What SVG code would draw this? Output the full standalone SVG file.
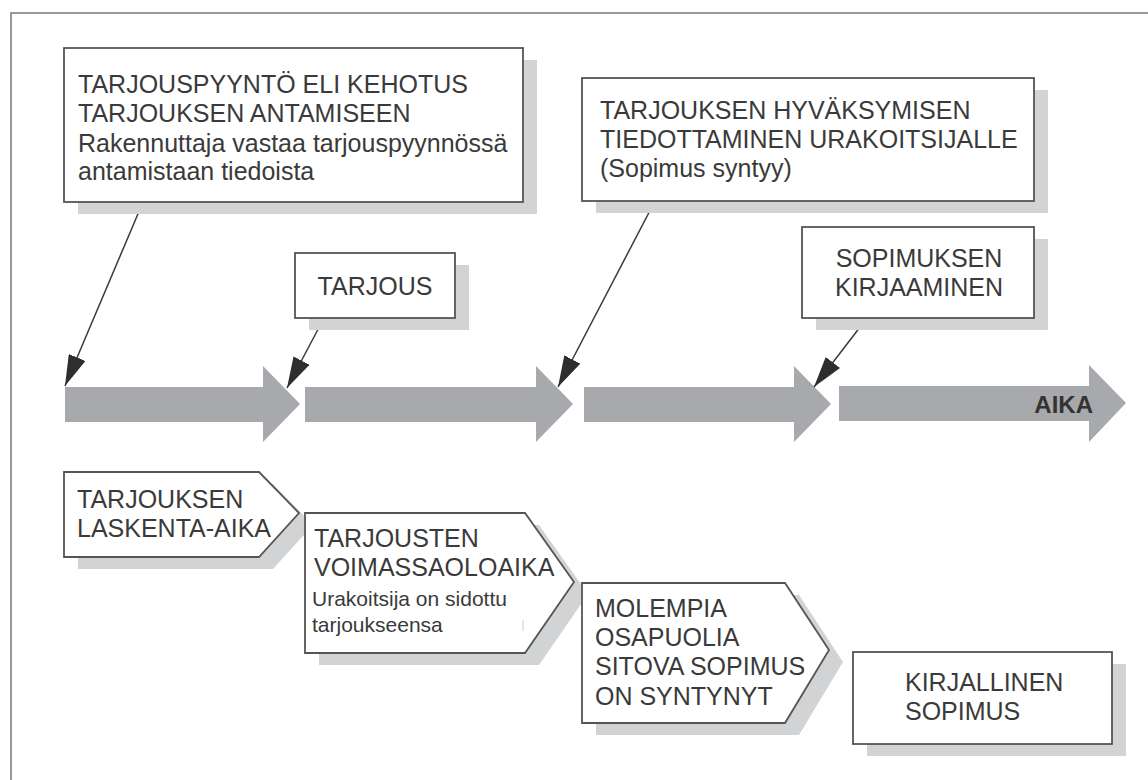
<svg xmlns="http://www.w3.org/2000/svg" width="1148" height="780" viewBox="0 0 1148 780">
  <defs>
    <style>
      .frame { fill: none; stroke: #808080; stroke-width: 1.6; }
      .box { fill: #ffffff; stroke: #555555; stroke-width: 1.8; }
      .shadow { fill: #d1d3d4; stroke: none; }
      .timeline { fill: #a7a9ac; stroke: none; }
      .conn { fill: none; stroke: #3a3a3a; stroke-width: 1.5; }
      .t { font-family: "Liberation Sans", Arial, Helvetica, sans-serif; font-size: 25px; fill: #3a3a3a; }
      .ts { font-family: "Liberation Sans", Arial, Helvetica, sans-serif; font-size: 21px; fill: #3a3a3a; }
      .tb { font-family: "Liberation Sans", Arial, Helvetica, sans-serif; font-size: 24px; font-weight: bold; fill: #333333; }
    </style>
    <marker id="ah" markerUnits="userSpaceOnUse" markerWidth="32" markerHeight="18" refX="31" refY="9" orient="auto">
      <path d="M0,0 L31,9 L0,18 Z" fill="#2e2e2e"/>
    </marker>
  </defs>

  <rect class="frame" x="11" y="13" width="1200" height="800"/>

  <g id="timeline">
    <polygon class="timeline" points="65,387 263,387 263,366 300,404 263,442 263,422 65,422"/>
    <polygon class="timeline" points="305,387 536,387 536,366 573,404 536,442 536,422 305,422"/>
    <polygon class="timeline" points="584,387 794,387 794,366 831,404 794,442 794,422 584,422"/>
    <polygon class="timeline" points="839,386 1089,386 1089,365 1126,403 1089,442 1089,421 839,421"/>
    <text class="tb" x="1093" y="413" text-anchor="end">AIKA</text>
  </g>

  <g id="connectors">
    <line class="conn" x1="143" y1="202" x2="65" y2="386" marker-end="url(#ah)"/>
    <line class="conn" x1="324" y1="318" x2="287" y2="388" marker-end="url(#ah)"/>
    <line class="conn" x1="655" y1="201" x2="558" y2="387" marker-end="url(#ah)"/>
    <line class="conn" x1="867" y1="318" x2="814" y2="387" marker-end="url(#ah)"/>
  </g>

  <g id="tarjouspyynto">
    <rect class="shadow" x="78" y="60" width="459" height="154"/>
    <rect class="box" x="64" y="48" width="459" height="154"/>
    <text class="t" x="78" y="93">TARJOUSPYYNTÖ ELI KEHOTUS</text>
    <text class="t" x="78" y="122">TARJOUKSEN ANTAMISEEN</text>
    <text class="t" x="78" y="152">Rakennuttaja vastaa tarjouspyynnössä</text>
    <text class="t" x="78" y="180">antamistaan tiedoista</text>
  </g>

  <g id="hyvaksyminen">
    <rect class="shadow" x="596" y="90" width="452" height="123"/>
    <rect class="box" x="582" y="78" width="452" height="123"/>
    <text class="t" x="600" y="119">TARJOUKSEN HYVÄKSYMISEN</text>
    <text class="t" x="600" y="148">TIEDOTTAMINEN URAKOITSIJALLE</text>
    <text class="t" x="600" y="177">(Sopimus syntyy)</text>
  </g>

  <g id="tarjous">
    <rect class="shadow" x="309" y="265" width="160" height="65"/>
    <rect class="box" x="295" y="253" width="160" height="65"/>
    <text class="t" x="375" y="295" text-anchor="middle">TARJOUS</text>
  </g>

  <g id="kirjaaminen">
    <rect class="shadow" x="816" y="239" width="232" height="91"/>
    <rect class="box" x="802" y="227" width="232" height="91"/>
    <text class="t" x="919" y="267" text-anchor="middle">SOPIMUKSEN</text>
    <text class="t" x="919" y="296" text-anchor="middle">KIRJAAMINEN</text>
  </g>

  <g id="laskenta-aika">
    <polygon class="shadow" points="78,484 273,484 313,525 273,569 78,569"/>
    <polygon class="box" points="64,472 259,472 299,513 259,557 64,557"/>
    <text class="t" x="77" y="508">TARJOUKSEN</text>
    <text class="t" x="77" y="537">LASKENTA-AIKA</text>
  </g>

  <g id="voimassaoloaika">
    <polygon class="shadow" points="319,525 539,525 588,594 539,665 319,665"/>
    <polygon class="box" points="305,513 525,513 574,582 525,653 305,653"/>
    <text class="t" x="314" y="547">TARJOUSTEN</text>
    <text class="t" x="314" y="576">VOIMASSAOLOAIKA</text>
    <text class="ts" x="312" y="606">Urakoitsija on sidottu</text>
    <text class="ts" x="312" y="632">tarjoukseensa</text>
    <line x1="523" y1="620" x2="523" y2="631" stroke="#cccccc" stroke-width="1"/>
  </g>

  <g id="sitova-sopimus">
    <polygon class="shadow" points="596,595 799,595 843,662 799,735 596,735"/>
    <polygon class="box" points="582,583 785,583 829,650 785,723 582,723"/>
    <text class="t" x="595" y="617">MOLEMPIA</text>
    <text class="t" x="595" y="646">OSAPUOLIA</text>
    <text class="t" x="595" y="675">SITOVA SOPIMUS</text>
    <text class="t" x="595" y="705">ON SYNTYNYT</text>
  </g>

  <g id="kirjallinen">
    <rect class="shadow" x="867" y="664" width="259" height="92"/>
    <rect class="box" x="853" y="652" width="259" height="92"/>
    <text class="t" x="905" y="691">KIRJALLINEN</text>
    <text class="t" x="905" y="720">SOPIMUS</text>
  </g>
</svg>
